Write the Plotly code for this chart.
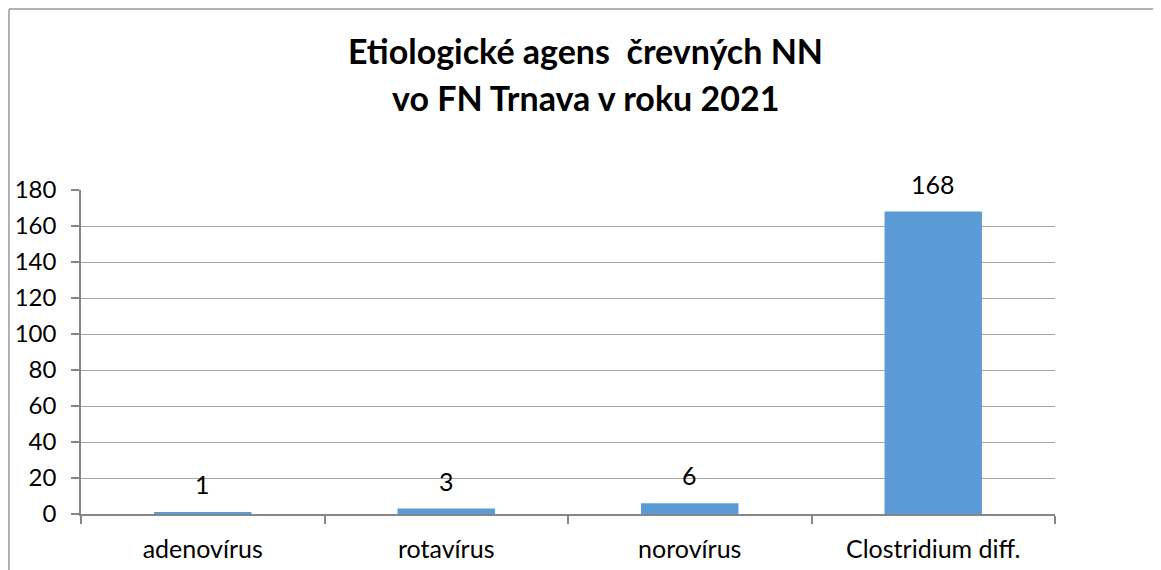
import plotly.graph_objects as go

categories = ["adenovírus", "rotavírus", "norovírus", "Clostridium diff."]
values = [1, 3, 6, 168]
y_ticks = [0, 20, 40, 60, 80, 100, 120, 140, 160, 180]
title_lines = ["Etiologické agens  črevných NN", "vo FN Trnava v roku 2021"]

OFF = 8  # page body margin
W, H = 1161 - OFF, 570 - OFF
# plot area in screen coordinates
SL, SR, ST, SB = 81, 1055, 190, 514
L, R, T, B = SL - OFF, SR - OFF, ST - OFF, SB - OFF
FONT = "Lato, 'Open Sans', sans-serif"

fig = go.Figure()
fig.add_trace(go.Bar(
    x=categories, y=values,
    marker=dict(color="#5B9BD5", line=dict(width=0)),
    showlegend=False, hoverinfo="x+y",
))

for c, v in zip(categories, values):
    fig.add_annotation(x=c, y=v, text=str(v), showarrow=False,
                       yanchor="middle", yshift=28,
                       font=dict(family=FONT, size=25, color="#000000"))

pw = SR - SL
ph = SB - ST
def px(sx):
    return (sx - SL) / pw
def py(sy):
    return (SB - sy) / ph

# title as two lines
for line, sy in zip(title_lines, [50, 97]):
    fig.add_annotation(xref="paper", yref="paper", x=px(585), y=py(sy),
                       text="<b>" + line + "</b>", showarrow=False,
                       xanchor="center", yanchor="middle",
                       font=dict(family=FONT, size=34, color="#000000"))

border = dict(color="#9a9a9a", width=1.5)
fig.add_shape(type="line", xref="paper", yref="paper",
              x0=px(9), x1=px(1300), y0=py(9), y1=py(9), line=border)
fig.add_shape(type="line", xref="paper", yref="paper",
              x0=px(9), x1=px(9), y0=py(9), y1=py(700), line=border)

fig.update_layout(
    width=W, height=H,
    margin=dict(l=L, r=W - R, t=T, b=H - B, pad=0, autoexpand=False),
    paper_bgcolor="white", plot_bgcolor="white",
    bargap=0.6,
    font=dict(family=FONT, size=25, color="#000000"),
    xaxis=dict(showline=True, linecolor="#868686", linewidth=1.5,
               ticks="outside", tickson="boundaries", ticklen=8,
               tickcolor="#868686", tickwidth=1.5, automargin=False,
               showgrid=False, tickfont=dict(size=25),
               ticklabelstandoff=12),
    yaxis=dict(range=[0, 180], tickvals=y_ticks, automargin=False,
               showline=True, linecolor="#868686", linewidth=1.5,
               ticks="outside", ticklen=8, tickcolor="#868686", tickwidth=1.5,
               showgrid=True, gridcolor="#a6a6a6", gridwidth=1.2,
               zeroline=False, tickfont=dict(size=24),
               ticklabelstandoff=10),
)

fig.write_html("out.html")
